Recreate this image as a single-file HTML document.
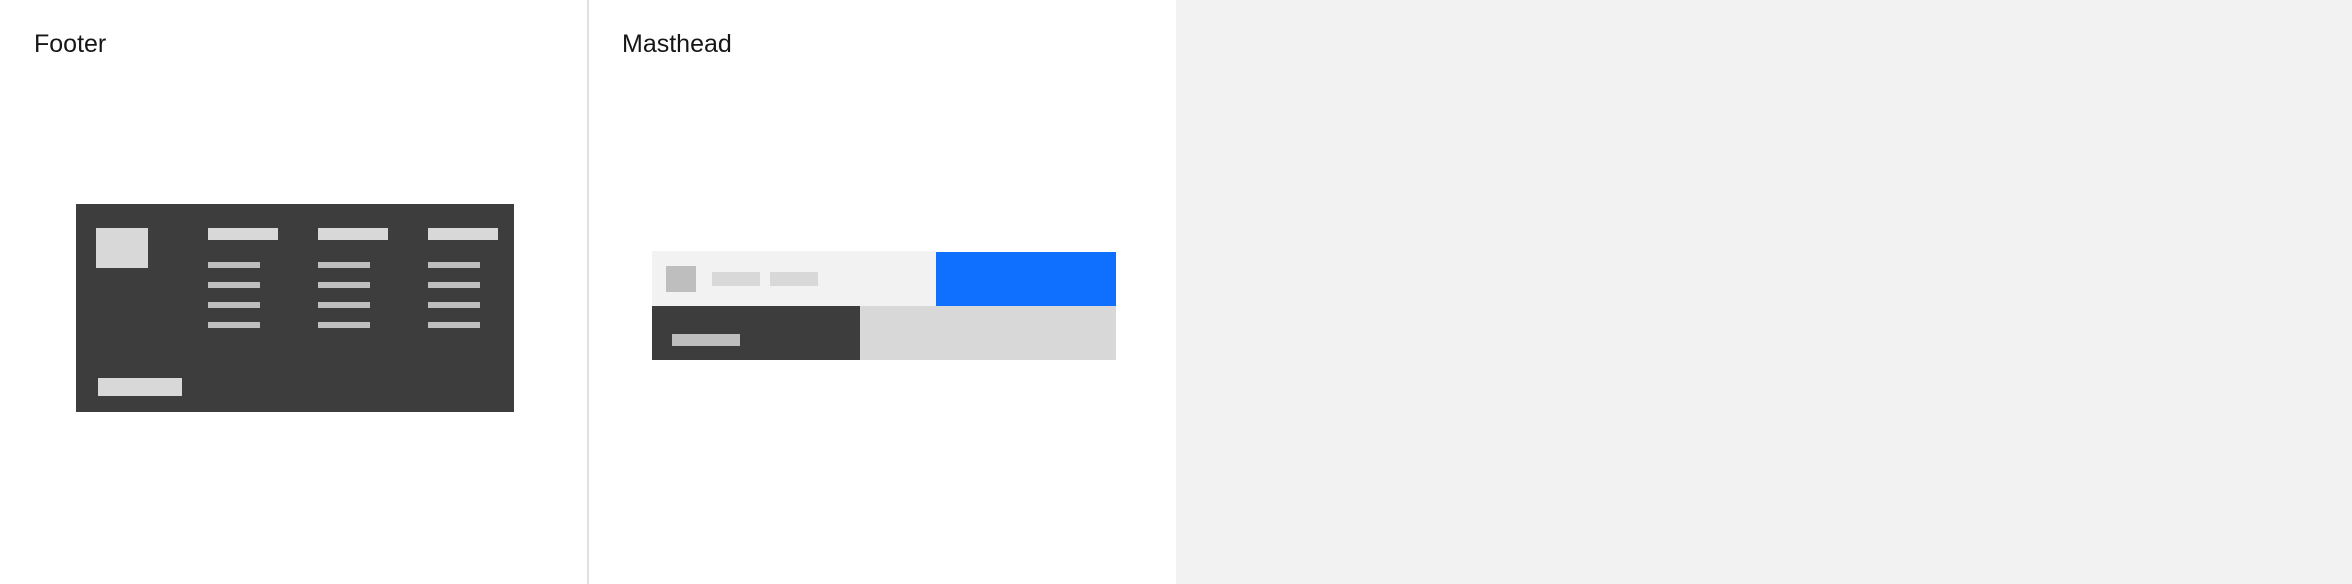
<!DOCTYPE html>
<html><head><meta charset="utf-8"><style>
body{margin:0;width:2352px;height:584px;position:relative;background:#fff;overflow:hidden;font-family:"Liberation Sans",sans-serif;}
div{position:absolute;box-sizing:border-box;}
.t{font-size:25px;color:#161616;line-height:1;}
</style></head><body>
<div style="left:0;top:0;width:587px;height:584px;background:#fff">
  <div class="t" style="left:34px;top:32px">Footer</div>
  <div style="left:76px;top:204px;width:438px;height:208px;background:#3d3d3d">
    <div style="left:20px;top:24px;width:52px;height:40px;background:#d8d8d8"></div>
    <div style="left:132px;top:24px;width:70px;height:12px;background:#d8d8d8"></div>
    <div style="left:242px;top:24px;width:70px;height:12px;background:#d8d8d8"></div>
    <div style="left:352px;top:24px;width:70px;height:12px;background:#d8d8d8"></div>
    <div style="left:132px;top:58px;width:52px;height:6px;background:#bebebe"></div>
    <div style="left:132px;top:78px;width:52px;height:6px;background:#bebebe"></div>
    <div style="left:132px;top:98px;width:52px;height:6px;background:#bebebe"></div>
    <div style="left:132px;top:118px;width:52px;height:6px;background:#bebebe"></div>
    <div style="left:242px;top:58px;width:52px;height:6px;background:#bebebe"></div>
    <div style="left:242px;top:78px;width:52px;height:6px;background:#bebebe"></div>
    <div style="left:242px;top:98px;width:52px;height:6px;background:#bebebe"></div>
    <div style="left:242px;top:118px;width:52px;height:6px;background:#bebebe"></div>
    <div style="left:352px;top:58px;width:52px;height:6px;background:#bebebe"></div>
    <div style="left:352px;top:78px;width:52px;height:6px;background:#bebebe"></div>
    <div style="left:352px;top:98px;width:52px;height:6px;background:#bebebe"></div>
    <div style="left:352px;top:118px;width:52px;height:6px;background:#bebebe"></div>
    <div style="left:22px;top:174px;width:84px;height:18px;background:#d8d8d8"></div>
  </div>
</div>
<div style="left:587px;top:0;width:2px;height:584px;background:#e0e0e0"></div>
<div style="left:589px;top:0;width:587px;height:584px;background:#fff">
  <div class="t" style="left:33px;top:32px">Masthead</div>
  <div style="left:63px;top:251px;width:284px;height:55px;background:#f2f2f2">
    <div style="left:14px;top:15px;width:30px;height:26px;background:#bebebe"></div>
    <div style="left:60px;top:21px;width:48px;height:14px;background:#d8d8d8"></div>
    <div style="left:118px;top:21px;width:48px;height:14px;background:#d8d8d8"></div>
  </div>
  <div style="left:347px;top:252px;width:180px;height:54px;background:#0f6fff"></div>
  <div style="left:63px;top:306px;width:208px;height:54px;background:#3d3d3d">
    <div style="left:20px;top:28px;width:68px;height:12px;background:#bebebe"></div>
  </div>
  <div style="left:271px;top:306px;width:256px;height:54px;background:#d8d8d8"></div>
</div>
<div style="left:1176px;top:0;width:1176px;height:584px;background:#f2f2f2"></div>
</body></html>
